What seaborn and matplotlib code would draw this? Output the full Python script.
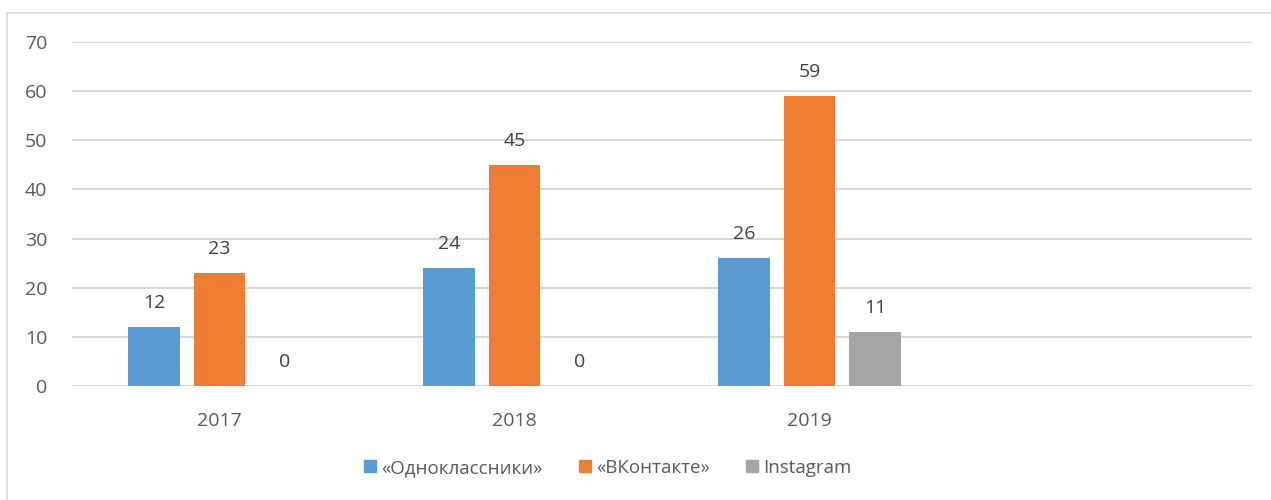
import pandas as pd
import matplotlib.pyplot as plt
import seaborn as sns
from matplotlib.patches import Rectangle
from matplotlib.lines import Line2D

years = ["2017", "2018", "2019", ""]
series = ["«Одноклассники»", "«ВКонтакте»", "Instagram"]
odnoklassniki = [12, 24, 26]
vkontakte = [23, 45, 59]
instagram = [0, 0, 11]
colors = ["#5B9BD5", "#ED7D31", "#A5A5A5"]

rows = []
for name, vals in zip(series, [odnoklassniki, vkontakte, instagram]):
    for yr, v in zip(years[:3], vals):
        rows.append({"Год": yr, "Сеть": name, "Значение": v})
df = pd.DataFrame(rows)

sns.set_theme(style="white")
plt.rcParams['font.family'] = ['Open Sans', 'DejaVu Sans']

fig = plt.figure(figsize=(12.71, 5.0), dpi=100)
ax = fig.add_axes([0.0567, 0.228, 0.9283, 0.688])

sns.barplot(data=df, x="Год", y="Значение", hue="Сеть", order=years,
            hue_order=series, palette=colors, width=0.666, gap=0.21,
            saturation=1, linewidth=0, ax=ax, legend=False)

for cont in ax.containers:
    ax.bar_label(cont, padding=11, fontsize=14, color="#404040")

ax.set_ylim(0, 70)
ax.set_xlim(-0.5, 3.5)
ax.set_yticks(range(0, 71, 10))
ax.yaxis.grid(True, color="#D9D9D9", linewidth=1.5)
ax.set_axisbelow(True)
for s in ax.spines.values():
    s.set_visible(False)
ax.tick_params(axis="both", length=0, labelsize=14, colors="#595959")
ax.tick_params(axis="x", pad=19)
ax.tick_params(axis="y", pad=18)
ax.set_xlabel("")
ax.set_ylabel("")

handles = [Line2D([0], [0], marker="s", linestyle="", markersize=9,
                  markerfacecolor=c, markeredgecolor=c) for c in colors]
fig.legend(handles, series, loc="center", bbox_to_anchor=(0.478, 0.064),
           ncol=3, frameon=False, fontsize=13.5, handlelength=0.7,
           handletextpad=0.25, columnspacing=1.9, labelcolor="#595959")

fig.patches.append(Rectangle((7 / 1271, -0.1), 1.2, 1 - 13 / 500 + 0.1,
                             transform=fig.transFigure, fill=False,
                             edgecolor="#D9D9D9", linewidth=1.2))

fig.savefig("out.png", dpi=100)
